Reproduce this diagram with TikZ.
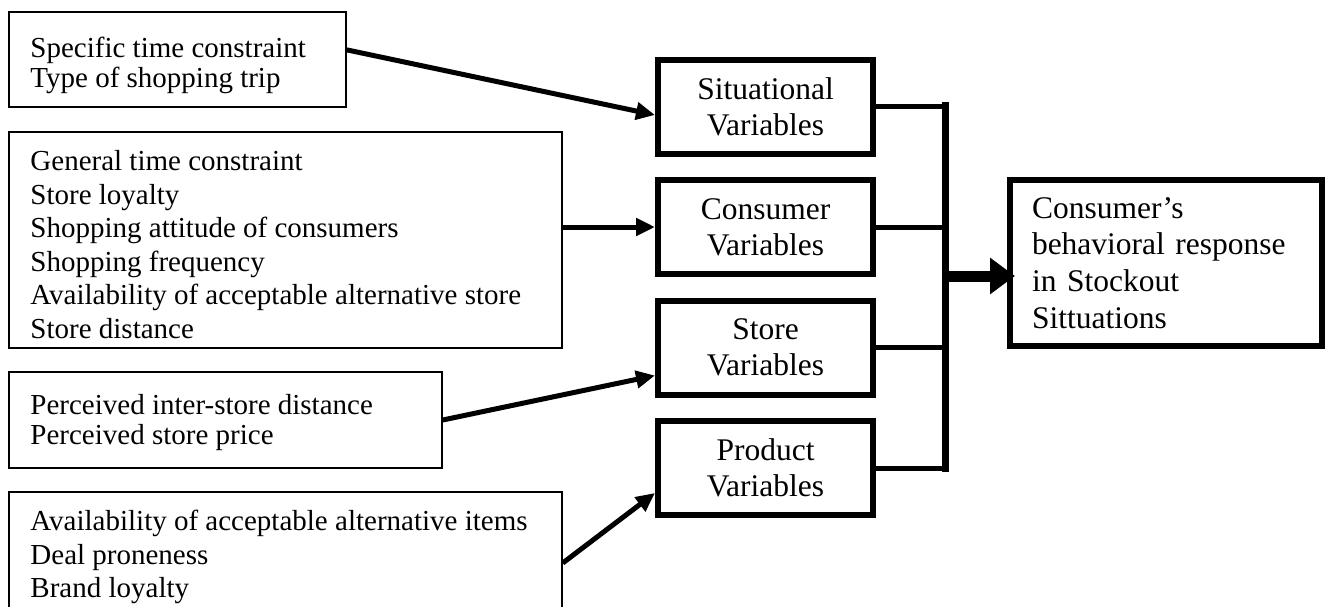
\documentclass[tikz,border=0pt]{standalone}
\usepackage{fontspec}
\setmainfont{Liberation Serif}
\usetikzlibrary{arrows.meta,positioning,calc}
\begin{document}
\begin{tikzpicture}[x=1pt,y=-1pt,
  inbox/.style={draw,line width=1.5pt,inner sep=0pt},
  intext/.style={align=left,inner sep=0pt,font=\fontsize{29pt}{33.5pt}\selectfont},
  varbox/.style={draw,line width=6pt,align=center,minimum width=215pt,minimum height=94pt,inner sep=0pt,font=\fontsize{31.5pt}{36.2pt}\selectfont},
  feed/.style={line width=5pt,-{Triangle[length=19pt,width=17pt]}},
  link/.style={line width=5pt},
  bus/.style={line width=7pt,line cap=rect},
  bigarrow/.style={line width=11pt,-{Triangle[length=25pt,width=35pt]}}]
\useasboundingbox (0,0) rectangle (1325,607);
\clip (0,0) rectangle (1325,607);

\node[inbox,minimum width=337pt,minimum height=95pt] (inA) at (177.5,59.5) {};
\node[inbox,minimum width=553pt,minimum height=216pt] (inB) at (285.5,240) {};
\node[inbox,minimum width=433pt,minimum height=96pt] (inC) at (225.5,420) {};
\node[inbox,minimum width=553pt,minimum height=142pt] (inD) at (285.5,563) {};

\node[intext,font=\fontsize{29pt}{30pt}\selectfont,below right=26pt and 22pt of inA.north west] (txtA) {Specific time constraint\\Type of shopping trip};
\node[intext,below right=19pt and 22pt of inB.north west] (txtB) {General time constraint\\Store loyalty\\Shopping attitude of consumers\\Shopping frequency\\Availability of acceptable alternative store\\Store distance};
\node[intext,font=\fontsize{29pt}{30pt}\selectfont,below right=23pt and 22pt of inC.north west] (txtC) {Perceived inter-store distance\\Perceived store price};
\node[intext,below right=19pt and 22pt of inD.north west] (txtD) {Availability of acceptable alternative items\\Deal proneness\\Brand loyalty};

\node[varbox] (sit) at (765.5,107) {Situational\\Variables};
\node[varbox] (con) at (765.5,227) {Consumer\\Variables};
\node[varbox] (store) at (765.5,347.5) {Store\\Variables};
\node[varbox] (prod) at (765.5,468) {Product\\Variables};

\node[varbox,align=left,text width=268pt,inner xsep=22pt,minimum width=312pt,minimum height=166pt,font=\fontsize{31.5pt}{36.7pt}\selectfont] (resp) at (1166,263) {Consumer’s\\behavioral response\\in Stockout\\Sittuations};

\draw[feed] ($(inA.north east)!0.4!(inA.south east)$) -- ($(sit.north west)!0.58!(sit.south west)$);
\draw[feed] (inB.east |- con.west) -- (con.west);
\draw[feed] (inC.east) -- ($(store.north west)!0.78!(store.south west)$);
\draw[feed] (inD.east) -- ($(prod.north west)!0.75!(prod.south west)$);

\coordinate (bustop) at (945,106);
\coordinate (busbot) at (945,468);
\coordinate (busout) at (945,276);
\foreach \v in {sit,con,store,prod}
  \draw[link] (\v.east) -- (\v.east -| bustop);
\draw[bus] (bustop) -- (busbot);
\draw[bigarrow] (busout) -- ([xshift=8pt]busout -| resp.west);
\end{tikzpicture}
\end{document}
